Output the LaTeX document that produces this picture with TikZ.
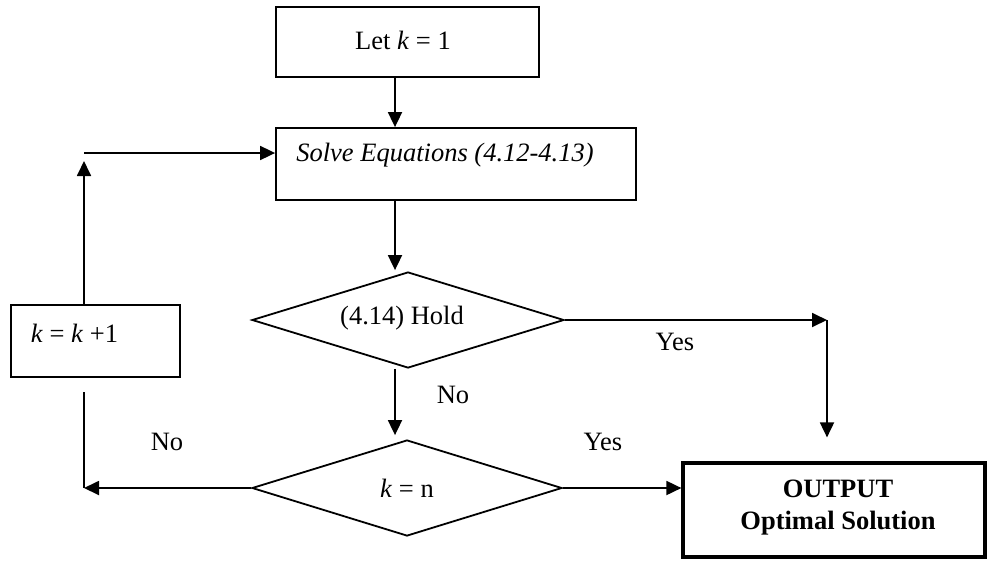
\documentclass[tikz,border=0pt]{standalone}
\usepackage{fontspec}
\setmainfont{Liberation Serif}
\usetikzlibrary{shapes.geometric,arrows.meta}
\begin{document}
\begin{tikzpicture}[x=1pt,y=-1pt,
  every node/.style={font=\fontsize{26.5}{32}\selectfont},
  box/.style={draw, rectangle, line width=1.8pt, inner sep=0pt},
  dia/.style={draw, diamond, line width=1.8pt, inner sep=0pt, minimum width=312pt, minimum height=96pt},
  arr/.style={line width=1.8pt, -{Triangle[length=15pt,width=14pt]}},
  ln/.style={line width=1.8pt},
  lbl/.style={inner sep=0pt}]
\useasboundingbox (0,0) rectangle (987,560);

% boxes
\node[box, minimum width=263pt, minimum height=70pt] (let) at (407.5,42) {};
\node[lbl] (lettxt) at (403,40) {Let \textit{k} = 1};

\node[box, minimum width=360pt, minimum height=72pt] (solve) at (456,164) {};
\node[lbl] (solvetxt) at (445,155) {\textit{Solve Equations (4.12-4.13)}};

\node[box, minimum width=169pt, minimum height=72pt] (inc) at (95.5,341) {};
\node[lbl] (inctxt) at (74.5,333) {\textit{k} = \textit{k} +1};

\node[dia] (d1) at (408,320) {};
\node[lbl] (d1txt) at (402,318) {(4.14) Hold};

\node[dia, minimum width=310pt] (d2) at (407,488) {};
\node[lbl] (d2txt) at (407,488) {\textit{k} = n};

\node[box, line width=3.2pt, minimum width=302pt, minimum height=94pt] (out) at (834,510) {};
\node[lbl, align=center] (outtxt) at (838,508) {\textbf{OUTPUT}\\\textbf{Optimal Solution}};

% labels
\node[lbl] (yes1) at (675,342) {Yes};
\node[lbl] (no1) at (453,395) {No};
\node[lbl] (yes2) at (603,442) {Yes};
\node[lbl] (no2) at (167,442) {No};

% helper coordinates
\coordinate (cx) at (395,0);
\coordinate (lc) at (84,153);
\coordinate (upt) at (84,161);
\coordinate (lb) at (84,392);
\coordinate (rc) at (827,320);

% connectors
\draw[arr] (let.south -| cx) -- (solve.north -| cx);
\draw[arr] (lc) -- (lc -| solve.west);
\draw[arr] (inc.north -| upt) -- (upt);
\draw[arr] (solve.south -| cx) -- ([yshift=1pt]d1.north -| cx);
\draw[arr] (d1.east) -- (rc);
\draw[arr] (rc) -- ([yshift=24pt]out.north -| rc);
\draw[arr] (d1.south -| cx) -- ([yshift=4pt]d2.north -| cx);
\draw[arr] (d2.east) -- (d2.east -| out.west);
\draw[arr] (d2.west) -- (d2.west -| lb);
\draw[ln] (lb) -- (lb |- d2.west);
\end{tikzpicture}
\end{document}
